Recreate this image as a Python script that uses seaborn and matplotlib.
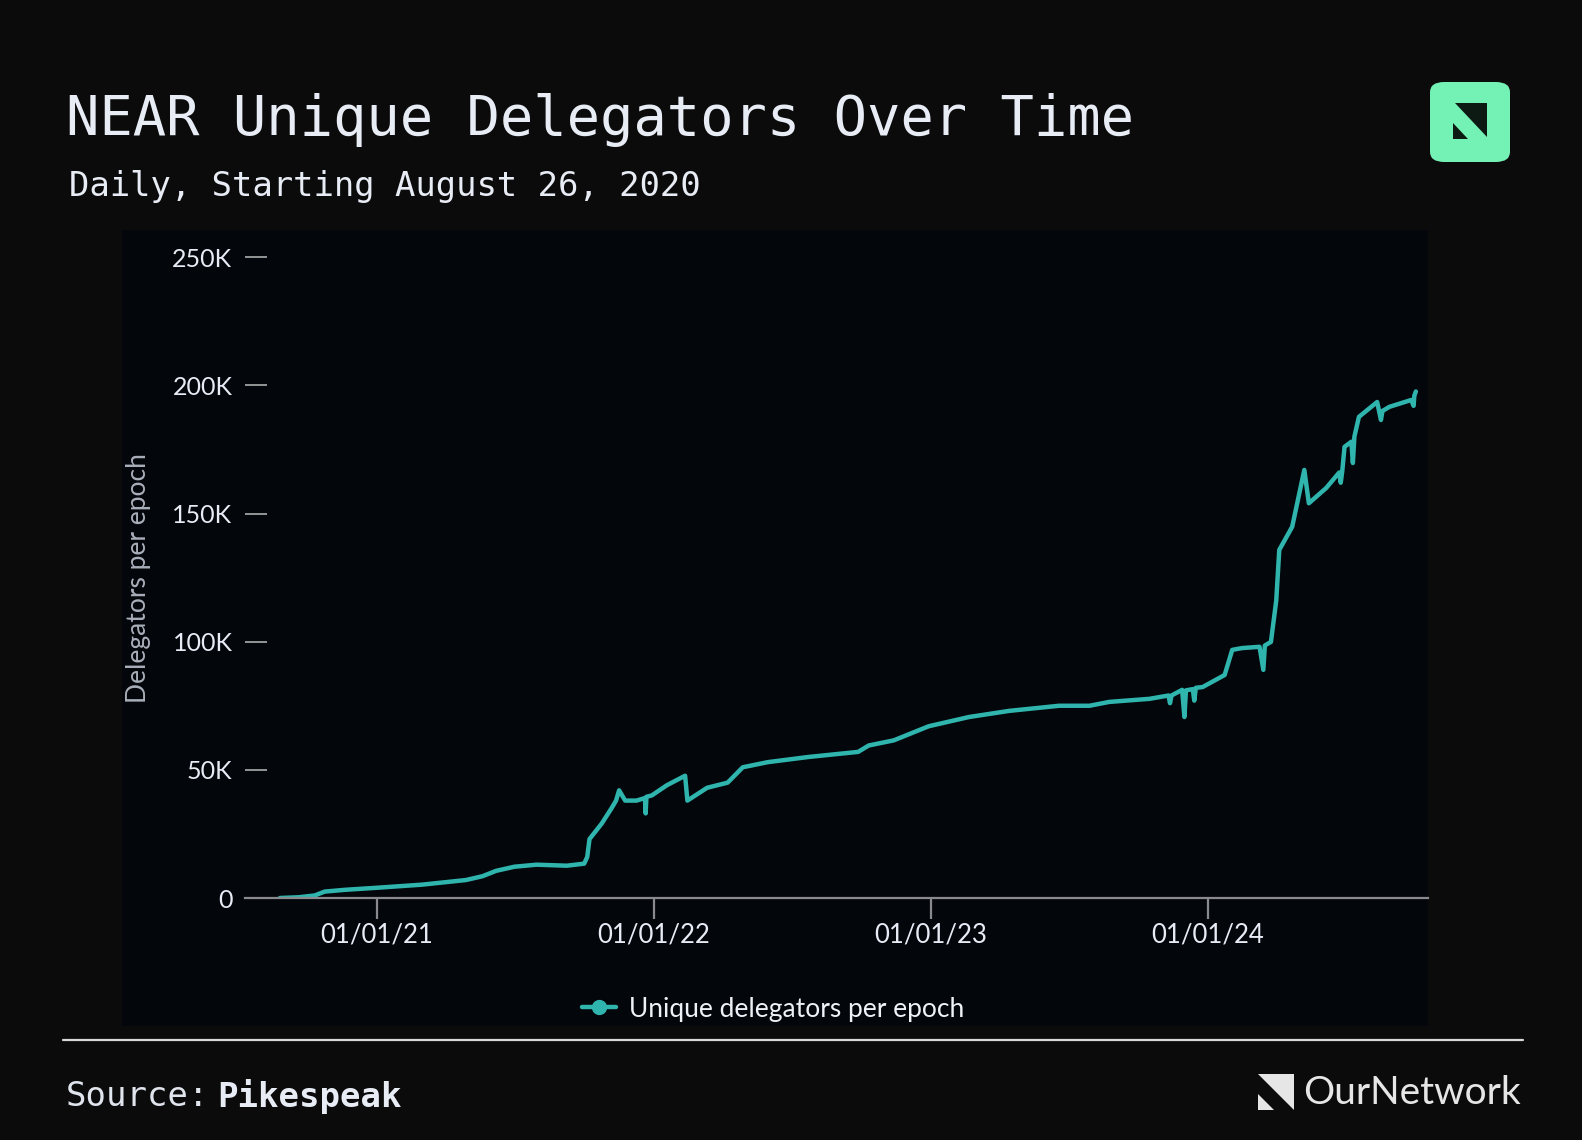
import pandas as pd
import numpy as np
import seaborn as sns
import matplotlib.pyplot as plt
from matplotlib.lines import Line2D
from matplotlib.patches import Rectangle, FancyBboxPatch, Polygon

# dados (milhares de delegadores)
datas = ['2020-08-26', '2020-09-20', '2020-10-11', '2020-10-24', '2020-11-20',
         '2021-01-01', '2021-03-01', '2021-04-28', '2021-05-20', '2021-06-07',
         '2021-07-01', '2021-07-30', '2021-09-08', '2021-10-01', '2021-10-05',
         '2021-10-08', '2021-10-24', '2021-11-06', '2021-11-12', '2021-11-16',
         '2021-11-24', '2021-12-09', '2021-12-20', '2021-12-21', '2021-12-22',
         '2021-12-29', '2022-01-18', '2022-02-11', '2022-02-14', '2022-03-12',
         '2022-04-08', '2022-04-28', '2022-05-31', '2022-07-23', '2022-09-27',
         '2022-10-11', '2022-11-13', '2022-12-29', '2023-02-20', '2023-04-14',
         '2023-06-19', '2023-07-29', '2023-08-24', '2023-10-16', '2023-11-10',
         '2023-11-12', '2023-11-14', '2023-11-28', '2023-12-01', '2023-12-03',
         '2023-12-12', '2023-12-14', '2023-12-16', '2023-12-25', '2024-01-23',
         '2024-02-02', '2024-02-15', '2024-03-09', '2024-03-14', '2024-03-16',
         '2024-03-24', '2024-03-31', '2024-04-04', '2024-04-21', '2024-05-07',
         '2024-05-13', '2024-06-05', '2024-06-22', '2024-06-24', '2024-06-26',
         '2024-06-29', '2024-07-08', '2024-07-10', '2024-07-12', '2024-07-14',
         '2024-07-18', '2024-08-11', '2024-08-16', '2024-08-18', '2024-08-27',
         '2024-09-25', '2024-09-28', '2024-09-29', '2024-10-01']
valores = [0.0, 0.3, 1.0, 2.5, 3.2,
           4.0, 5.2, 7.0, 8.5, 10.6,
           12.2, 13.0, 12.6, 13.4, 16.0,
           23.0, 29.0, 35.0, 38.0, 42.0,
           38.0, 38.0, 39.0, 33.0, 39.5,
           40.0, 44.0, 47.7, 38.0, 43.0,
           45.0, 51.0, 53.0, 55.0, 57.0,
           59.5, 61.5, 67.0, 70.6, 73.0,
           75.0, 75.0, 76.5, 77.7, 79.0,
           76.0, 79.0, 81.2, 70.6, 81.0,
           81.5, 77.0, 82.0, 82.3, 87.0,
           96.8, 97.5, 98.0, 89.0, 98.5,
           99.9, 116.0, 135.8, 144.8, 167.0,
           154.0, 160.0, 166.0, 162.0, 166.5,
           176.0, 178.0, 169.7, 180.0, 182.6,
           187.7, 193.5, 186.5, 190.0, 191.6,
           194.3, 192.0, 196.0, 197.6]

base_dados = pd.DataFrame({'data': pd.to_datetime(datas), 'delegadores': np.array(valores) * 1000})

ticks_y = [0, 50000, 100000, 150000, 200000, 250000]
rotulos_y = ['0', '50K', '100K', '150K', '200K', '250K']
ticks_x = ['2021-01-01', '2022-01-01', '2023-01-01', '2024-01-01']
rotulos_x = ['01/01/21', '01/01/22', '01/01/23', '01/01/24']

sns.set_theme(style='dark')
plt.rcParams['font.family'] = ['Lato', 'DejaVu Sans']

W, H = 1582, 1140
fig = plt.figure(figsize=(W / 100, H / 100), dpi=100, facecolor='#0b0b0b')

def fx(x):
    return x / W

def fy(y):
    return 1 - y / H

# painel escuro do grafico
fig.add_artist(Rectangle((fx(122), fy(1026)), fx(1428) - fx(122), fy(230) - fy(1026),
                         transform=fig.transFigure, facecolor='#03060a', edgecolor='none', zorder=0))

ax = fig.add_axes([fx(245), fy(898), fx(1428) - fx(245), fy(230) - fy(898)])
ax.set_facecolor('none')
cor = '#2fb5ae'
sns.lineplot(data=base_dados, x='data', y='delegadores', ax=ax, color=cor, linewidth=3.2, legend=False)

ax.set_xlim(pd.Timestamp('2020-07-11'), pd.Timestamp('2024-10-17'))
ax.set_ylim(0, 260600)
ax.set_yticks(ticks_y)
ax.set_yticklabels(rotulos_y)
ax.set_xticks(pd.to_datetime(ticks_x))
ax.set_xticklabels(rotulos_x)
ax.grid(False)
for s in ['top', 'right', 'left']:
    ax.spines[s].set_visible(False)
ax.spines['bottom'].set_color('#8a8a8e')
ax.spines['bottom'].set_linewidth(1.6)
ax.tick_params(axis='y', direction='in', length=16, width=1.3, color='#a0a0a0',
               labelcolor='#e6ebf5', labelsize=18, pad=9, left=True)
ax.tick_params(axis='x', direction='out', length=15, width=1.6, color='#8a8a8e',
               labelcolor='#e6ebf5', labelsize=18.5, pad=3, bottom=True)
ax.set_xlabel('')
ax.set_ylabel('Delegators per epoch', color='#a9afba', fontsize=19)
ax.yaxis.set_label_coords(-0.0795, 0.479)

# legenda
alca = Line2D([0], [0], color=cor, linewidth=3.2, marker='o', markersize=10)
fig.legend([alca], ['Unique delegators per epoch'], loc='center',
           bbox_to_anchor=(fx(773), fy(1009)), frameon=False, fontsize=19,
           labelcolor='#eef1f7', handlelength=1.3, handletextpad=0.5)

# titulos
fig.text(fx(66), fy(120), 'NEAR Unique Delegators Over Time', family='DejaVu Sans Mono',
         fontsize=40, color='#e8ecf5', va='center', ha='left')
fig.text(fx(69), fy(186), 'Daily, Starting August 26, 2020', family='DejaVu Sans Mono',
         fontsize=24.4, color='#e8ecf5', va='center', ha='left')

# logo verde
fig.add_artist(FancyBboxPatch((fx(1430), fy(162)), fx(1510) - fx(1430), fy(82) - fy(162),
                              boxstyle='round,pad=0,rounding_size=0.009', transform=fig.transFigure,
                              facecolor='#74f2b6', edgecolor='none'))
fig.add_artist(Polygon([(fx(1455), fy(103)), (fx(1487), fy(103)), (fx(1487), fy(137))],
                       transform=fig.transFigure, facecolor='#0d1a14', edgecolor='none'))
fig.add_artist(Polygon([(fx(1453), fy(123)), (fx(1453), fy(139)), (fx(1468), fy(139))],
                       transform=fig.transFigure, facecolor='#0d1a14', edgecolor='none'))

# rodape
fig.add_artist(Line2D([fx(63), fx(1523)], [fy(1040), fy(1040)], transform=fig.transFigure,
                      color='#d8d8d8', linewidth=1.6))
fig.text(fx(66), fy(1096), 'Source:', family='DejaVu Sans Mono', fontsize=24.5,
         color='#e0e4ec', va='center', ha='left')
fig.text(fx(217), fy(1096), 'Pikespeak', family='DejaVu Sans Mono', fontsize=24.5,
         fontweight='bold', color='#e8ecf5', va='center', ha='left')

fig.add_artist(Polygon([(fx(1258), fy(1074)), (fx(1294), fy(1074)), (fx(1294), fy(1110))],
                       transform=fig.transFigure, facecolor='#e6e6e6', edgecolor='none'))
fig.add_artist(Polygon([(fx(1258), fy(1094)), (fx(1258), fy(1110)), (fx(1274), fy(1110))],
                       transform=fig.transFigure, facecolor='#e6e6e6', edgecolor='none'))
fig.text(fx(1303), fy(1093), 'OurNetwork', fontsize=28, color='#e6e6e6', va='center', ha='left')

plt.savefig('out.png', dpi=100, facecolor=fig.get_facecolor())
